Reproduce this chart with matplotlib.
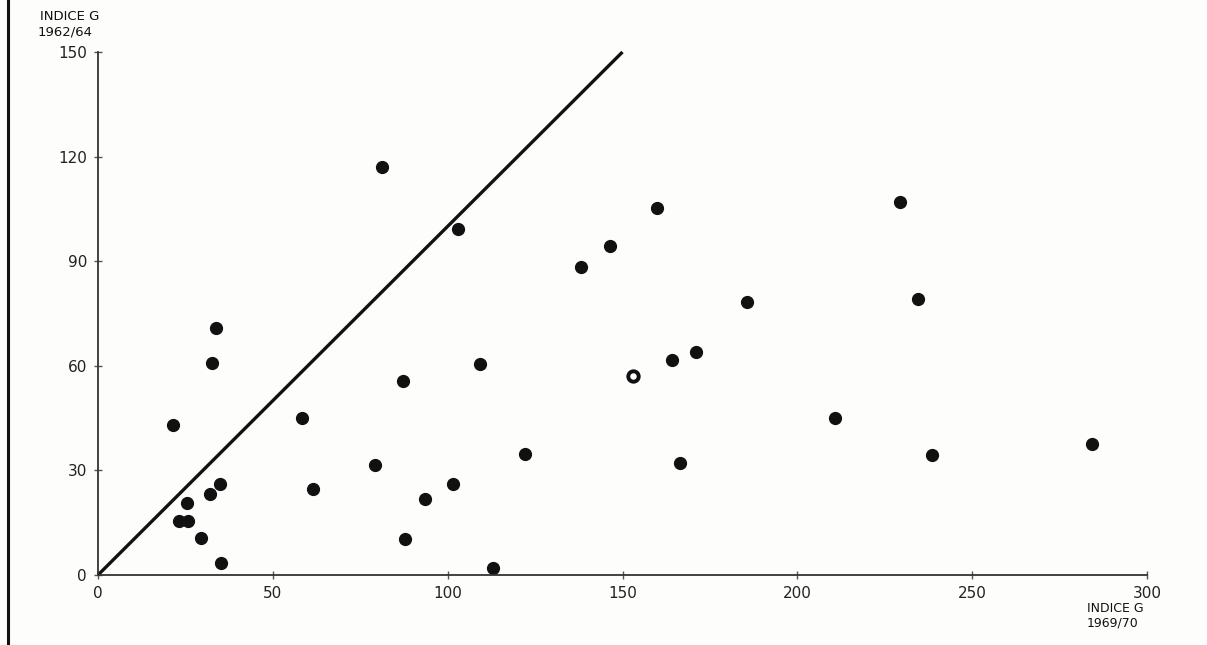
import matplotlib.pyplot as plt
from matplotlib.lines import Line2D

# indice G 1969/70 (x) vs indice G 1962/64 (y)
x_1969 = [21.5, 33.8, 32.7, 58.2, 35.0, 32.1, 25.5, 23.2, 25.8, 29.5,
          35.2, 61.6, 79.1, 81.1, 87.1, 87.7, 93.4, 101.4, 102.9, 109.2,
          113.0, 122.1, 138.1, 146.4, 159.9, 164.2, 166.5, 171.1, 185.7,
          210.9, 229.5, 234.4, 238.4, 284.2]
y_1962 = [43.0, 70.8, 60.7, 45.0, 26.1, 23.2, 20.6, 15.5, 15.5, 10.6,
          3.4, 24.6, 31.5, 116.9, 55.6, 10.3, 21.8, 26.1, 99.1, 60.5,
          2.0, 34.7, 88.3, 94.3, 105.4, 61.6, 32.1, 63.9, 78.2,
          45.0, 106.9, 79.1, 34.4, 37.5]
# punto vuoto
x_open = [153.0]
y_open = [57.0]

diag = [0, 150]
xticks = [0, 50, 100, 150, 200, 250, 300]
yticks = [0, 30, 60, 90, 120, 150]

INK = "#111111"

fig = plt.figure(figsize=(12.07, 6.45), dpi=100, facecolor="#fdfdfb")
ax = fig.add_axes([98 / 1207, 70 / 645, 1049 / 1207, 523 / 645])
ax.set_facecolor("none")

ax.plot(diag, diag, color=INK, lw=2.4, solid_capstyle="butt", clip_on=False)
ax.plot(x_1969, y_1962, "o", color=INK, ms=8.5, clip_on=False)
ax.plot(x_open, y_open, "o", mfc="white", mec=INK, mew=2.8, ms=7.5, clip_on=False)

ax.set_xlim(0, 300)
ax.set_ylim(0, 150)
for side in ("top", "right"):
    ax.spines[side].set_visible(False)
for side in ("left", "bottom"):
    ax.spines[side].set_color("#333333")
    ax.spines[side].set_linewidth(1.3)

ax.set_xticks(xticks)
ax.set_yticks(yticks)
ax.tick_params(direction="inout", length=6, width=1, color="#555555",
               labelsize=11, labelcolor="#222222")
ax.tick_params(axis="x", pad=5)
ax.tick_params(axis="y", pad=5)

fig.text(40 / 1207, 1 - 17 / 645, "INDICE G", fontsize=9.5, color=INK, va="center")
fig.text(38 / 1207, 1 - 32 / 645, "1962/64", fontsize=9.5, color=INK, va="center")
fig.text(1087 / 1207, 1 - 609 / 645, "INDICE G", fontsize=9, color=INK, va="center")
fig.text(1087 / 1207, 1 - 623 / 645, "1969/70", fontsize=9, color=INK, va="center")

# bordo sinistro della scansione
fig.add_artist(Line2D([8 / 1207, 8 / 1207], [0, 1], color=INK, lw=2.2,
                      transform=fig.transFigure))

fig.savefig("out.png", dpi=100, facecolor=fig.get_facecolor())
